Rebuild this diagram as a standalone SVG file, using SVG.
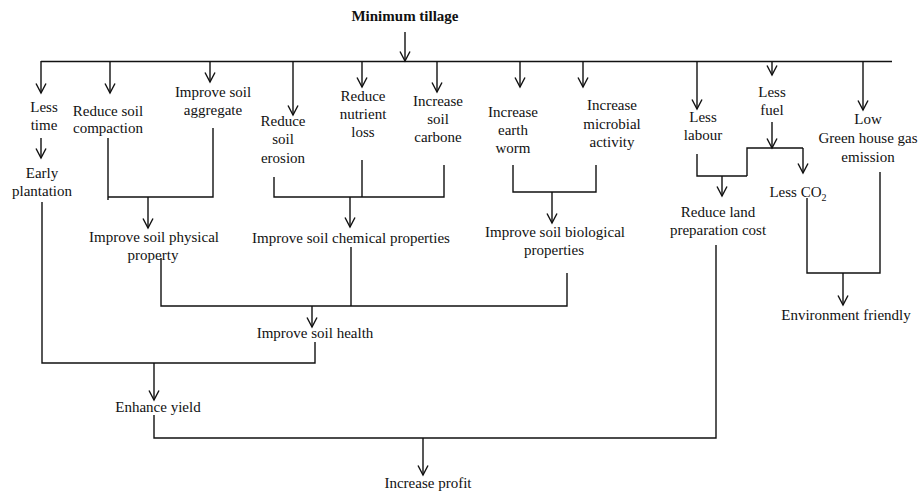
<svg xmlns="http://www.w3.org/2000/svg" width="924" height="491" viewBox="0 0 924 491">
<defs>
<marker id="arr" markerUnits="userSpaceOnUse" markerWidth="14" markerHeight="14" refX="10" refY="5.5" orient="auto">
<path d="M0.5,0.5 L10,5.5 L0.5,10.5" fill="none" stroke="#111" stroke-width="1.4"/>
</marker>
</defs>
<style>
text{font-family:"Liberation Serif","Times New Roman",serif;font-size:15px;fill:#111;text-anchor:middle}
.b{font-weight:bold}
.c{fill:none;stroke:#111;stroke-width:1.4}
.a{fill:none;stroke:#111;stroke-width:1.4;marker-end:url(#arr)}
</style>
<rect width="924" height="491" fill="#fff"/>
<g id="connectors">
<line class="a" x1="405" y1="32" x2="405" y2="61"/>
<line class="c" x1="41" y1="61.5" x2="892" y2="61.5"/>
<line class="a" x1="41" y1="61" x2="41" y2="93"/>
<line class="a" x1="110" y1="61" x2="110" y2="93"/>
<line class="a" x1="210" y1="61" x2="210" y2="82"/>
<line class="a" x1="293" y1="61" x2="293" y2="115"/>
<line class="a" x1="362" y1="61" x2="362" y2="87"/>
<line class="a" x1="437" y1="61" x2="437" y2="92"/>
<line class="a" x1="520" y1="61" x2="520" y2="87"/>
<line class="a" x1="583" y1="61" x2="583" y2="87"/>
<line class="a" x1="697" y1="61" x2="697" y2="109"/>
<line class="a" x1="772" y1="61" x2="772" y2="75"/>
<line class="a" x1="863" y1="61" x2="863" y2="110"/>
<line class="a" x1="41" y1="138" x2="41" y2="158"/>
<path class="c" d="M108,138 V200 M213,128 V197 H108"/>
<line class="a" x1="148" y1="197" x2="148" y2="228"/>
<path class="c" d="M274,177 V197 H444 V165 M362,160 V197"/>
<line class="a" x1="350" y1="197" x2="350" y2="227"/>
<path class="c" d="M513,165 V192 H596 V165"/>
<line class="a" x1="552" y1="192" x2="552" y2="223"/>
<path class="c" d="M161,258 V306 H567 V273 M351,247 V306"/>
<line class="a" x1="312" y1="306" x2="312" y2="327"/>
<path class="c" d="M42,202 V363 H315 V342"/>
<line class="a" x1="154" y1="363" x2="154" y2="400"/>
<path class="c" d="M154,415 V438 H716 V245"/>
<line class="a" x1="423" y1="438" x2="423" y2="475"/>
<line class="a" x1="772" y1="122" x2="772" y2="148"/>
<path class="c" d="M747,176 V148 H803"/>
<line class="a" x1="803" y1="148" x2="803" y2="173"/>
<path class="c" d="M697,154 V176 H747"/>
<line class="a" x1="722" y1="176" x2="722" y2="196"/>
<path class="c" d="M807,198 V273 H880 V172"/>
<line class="a" x1="843" y1="273" x2="843" y2="305"/>
</g>
<g id="minimum_tillage"><text class="b" x="405" y="21">Minimum tillage</text></g>
<g id="less_time"><text x="44" y="112">Less</text><text x="44" y="130">time</text></g>
<g id="early_plantation"><text x="42" y="178">Early</text><text x="42" y="196">plantation</text></g>
<g id="reduce_compaction"><text x="108" y="116">Reduce soil</text><text x="108" y="133">compaction</text></g>
<g id="soil_aggregate"><text x="213" y="97">Improve soil</text><text x="213" y="115">aggregate</text></g>
<g id="soil_erosion"><text x="283" y="126">Reduce</text><text x="283" y="144">soil</text><text x="283" y="163">erosion</text></g>
<g id="nutrient_loss"><text x="363" y="101">Reduce</text><text x="363" y="119">nutrient</text><text x="363" y="137">loss</text></g>
<g id="soil_carbone"><text x="438" y="106">Increase</text><text x="438" y="124">soil</text><text x="438" y="142">carbone</text></g>
<g id="earth_worm"><text x="513" y="117">Increase</text><text x="513" y="135">earth</text><text x="513" y="153">worm</text></g>
<g id="microbial_activity"><text x="612" y="110">Increase</text><text x="612" y="129">microbial</text><text x="612" y="147">activity</text></g>
<g id="less_labour"><text x="703" y="122">Less</text><text x="703" y="140">labour</text></g>
<g id="less_fuel"><text x="772" y="97">Less</text><text x="772" y="115">fuel</text></g>
<g id="low_ghg"><text x="868" y="124">Low</text><text x="868" y="143">Green house gas</text><text x="868" y="162">emission</text></g>
<g id="less_co2"><text x="798" y="197">Less CO<tspan font-size="10" dy="4">2</tspan></text></g>
<g id="reduce_land_cost"><text x="718" y="217">Reduce land</text><text x="718" y="235">preparation cost</text></g>
<g id="environment_friendly"><text x="846" y="320">Environment friendly</text></g>
<g id="soil_physical"><text x="154" y="242">Improve soil physical</text><text x="153" y="260">property</text></g>
<g id="soil_chemical"><text x="351" y="243">Improve soil chemical properties</text></g>
<g id="soil_biological"><text x="555" y="237">Improve soil biological</text><text x="554" y="255">properties</text></g>
<g id="soil_health"><text x="315" y="338">Improve soil health</text></g>
<g id="enhance_yield"><text x="158" y="412">Enhance yield</text></g>
<g id="increase_profit"><text x="428" y="488">Increase profit</text></g>
</svg>
